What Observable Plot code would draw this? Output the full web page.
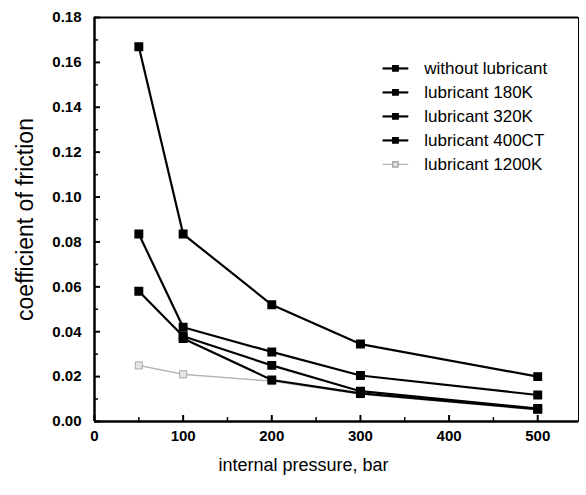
<!DOCTYPE html>
<html>
<head>
<meta charset="utf-8">
<script src="https://cdn.jsdelivr.net/npm/d3@7"></script>
<script src="https://cdn.jsdelivr.net/npm/@observablehq/plot@0.6"></script>
<style>
  html, body { margin: 0; padding: 0; background: #fff; }
  svg { font-family: "Liberation Sans", Arial, sans-serif; }
</style>
</head>
<body>
<div id="chart"></div>
<script>
// ---- data ----
const pressure = [50, 100, 200, 300, 500];
const seriesNames = ["without lubricant", "lubricant 180K", "lubricant 320K", "lubricant 400CT", "lubricant 1200K"];
const withoutLubricant = [0.167, 0.0835, 0.052, 0.0345, 0.020];
const lub180K = [0.0835, 0.042, 0.031, 0.0205, 0.0118];
const lub320K = [0.058, 0.038, 0.025, 0.0135, 0.0058];
const lub400CT = [null, 0.037, 0.0185, 0.0125, 0.0055];
const lub1200K = [0.025, 0.021, 0.018, 0.0122, 0.0052];
const xTicks = [0, 100, 200, 300, 400, 500];
const xMinorTicks = [50, 150, 250, 350, 450];
const yTicks = [0, 0.02, 0.04, 0.06, 0.08, 0.10, 0.12, 0.14, 0.16, 0.18];
const yMinorTicks = [0.01, 0.03, 0.05, 0.07, 0.09, 0.11, 0.13, 0.15, 0.17];
const xTitle = "internal pressure, bar";
const yTitle = "coefficient of friction";

const valuesBySeries = [withoutLubricant, lub180K, lub320K, lub400CT, lub1200K];
const rows = [];
valuesBySeries.forEach((vals, s) => {
  vals.forEach((v, i) => { if (v != null) rows.push({series: seriesNames[s], gray: s === 4, x: pressure[i], y: v}); });
});
const blackRows = rows.filter(d => !d.gray);
const grayRows = rows.filter(d => d.gray);

// legend layout (data-space, derived from row index)
const legTop = 0.1573, legStep = 0.01069;
const legend = seriesNames.map((name, i) => ({name, gray: i === 4, y: legTop - i * legStep}));
const legX1 = 325, legX2 = 354, legXM = 339.5, legXT = 372;

const W = 586, H = 495, ML = 94, MR = 8, MT = 17, MB = 74;
const frameW = W - ML - MR, frameH = H - MT - MB;

const chart = Plot.plot({
  width: W,
  height: H,
  marginLeft: ML,
  marginRight: MR,
  marginTop: MT,
  marginBottom: MB,
  style: {fontFamily: "'Liberation Sans', Arial, sans-serif", color: "#000", background: "#fff"},
  x: {domain: [0, 546], label: null},
  y: {domain: [0, 0.18], label: null},
  marks: [
    Plot.frame({stroke: "#000", strokeWidth: 1}),
    // inward ticks
    Plot.ruleX(xMinorTicks, {insetTop: frameH - 4, strokeWidth: 1.5}),
    Plot.ruleX(xTicks, {insetTop: frameH - 6, strokeWidth: 2}),
    Plot.ruleY(yMinorTicks, {insetRight: frameW - 4, strokeWidth: 1.5}),
    Plot.ruleY(yTicks, {insetRight: frameW - 6, strokeWidth: 2}),
    // labels
    Plot.axisX(xTicks, {tickSize: 0, tickPadding: 9, label: null, fontSize: 15, fontWeight: "bold"}),
    Plot.axisY(yTicks, {tickSize: 0, tickPadding: 13, label: null, tickFormat: ".2f", fontSize: 15, fontWeight: "bold"}),
    // heavy axis lines
    Plot.ruleX([0], {strokeWidth: 2.5}),
    Plot.ruleY([0], {strokeWidth: 2.5}),
    Plot.ruleY([0.18], {strokeWidth: 2}),
    // gray series
    Plot.line(grayRows, {x: "x", y: "y", stroke: "#b5b5b5", strokeWidth: 1.5, strokeDasharray: "1.5,1"}),
    Plot.dot(grayRows, {x: "x", y: "y", symbol: "square", r: 4, fill: "#e6e6e6", stroke: "#a8a8a8", strokeWidth: 1}),
    // black series
    Plot.line(blackRows, {x: "x", y: "y", z: "series", stroke: "#000", strokeWidth: 2.2}),
    Plot.dot(blackRows, {x: "x", y: "y", symbol: "square", r: 4.2, fill: "#000", stroke: "#000"}),
    // legend
    Plot.link(legend, {x1: () => legX1, x2: () => legX2, y1: "y", y2: "y",
      stroke: d => d.gray ? "#b5b5b5" : "#000", strokeWidth: d => d.gray ? 1.3 : 2.2,
      strokeDasharray: d => d.gray ? "1.5,1" : null}),
    Plot.dot(legend, {x: () => legXM, y: "y", symbol: "square", r: 3,
      fill: d => d.gray ? "#e6e6e6" : "#000", stroke: d => d.gray ? "#a8a8a8" : "#000"}),
    Plot.text(legend, {x: () => legXT, y: "y", text: "name", textAnchor: "start", fontSize: 17, fill: "#000"}),
    // axis titles
    Plot.text([xTitle], {frameAnchor: "bottom", dx: -33, dy: 49, fontSize: 18, lineAnchor: "bottom", fill: "#000"}),
    Plot.text([yTitle], {frameAnchor: "left", textAnchor: "middle", dx: -69, rotate: -90, fontSize: 23, fill: "#000"})
  ]
});
document.getElementById("chart").appendChild(chart);
</script>
</body>
</html>
